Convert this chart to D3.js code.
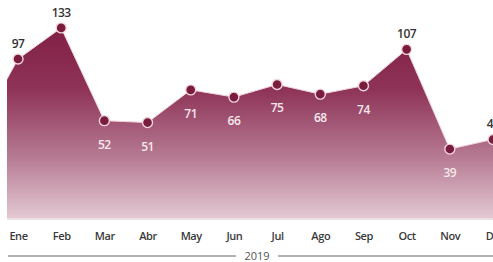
<!DOCTYPE html>
<html><head><meta charset="utf-8">
<script src="https://cdn.jsdelivr.net/npm/d3@7"></script>
<style>
html,body{margin:0;padding:0;background:#fff;}
svg{display:block;font-family:"Open Sans",sans-serif;}
</style></head>
<body><svg id="c" width="493" height="262"></svg>
<script>
const months = ["Ene","Feb","Mar","Abr","May","Jun","Jul","Ago","Sep","Oct","Nov","Dic"];
const values = [97,133,52,51,71,66,75,68,74,107,39,43];
const prevValue = 44; // Dic 2018, partly visible at left edge
const labelAbove = [true,true,false,false,false,false,false,false,false,true,false,true];
const yearLabel = "2019";

const svg = d3.select("#c");
const x = d3.scaleLinear().domain([0,11]).range([18,493]);
const y = d3.scaleLog().domain([30,150]).range([175,16]);
const bottom = 218;

const pts = [{i:-1,v:prevValue}].concat(values.map((v,i)=>({i,v})));

const defs = svg.append("defs");
const g = defs.append("linearGradient").attr("id","grad")
  .attr("gradientUnits","userSpaceOnUse").attr("x1",0).attr("y1",20).attr("x2",0).attr("y2",bottom);
g.append("stop").attr("offset","0%").attr("stop-color","#7f1d42");
g.append("stop").attr("offset","35%").attr("stop-color","#8e3357");
g.append("stop").attr("offset","70%").attr("stop-color","#b77c94");
g.append("stop").attr("offset","100%").attr("stop-color","#e4c9d3");
defs.append("clipPath").attr("id","clip").append("rect").attr("x",7).attr("y",0).attr("width",486).attr("height",bottom);

const area = d3.area().x(d=>x(d.i)).y0(bottom).y1(d=>y(d.v));
const line = d3.line().x(d=>x(d.i)).y(d=>y(d.v));
const plot = svg.append("g").attr("clip-path","url(#clip)");
plot.append("path").datum(pts).attr("d",area).attr("fill","url(#grad)");
plot.append("path").datum(pts).attr("d",line).attr("fill","none").attr("stroke","#f0d3dc").attr("stroke-width",1);

svg.append("line").attr("x1",7).attr("x2",493).attr("y1",bottom+1).attr("y2",bottom+1).attr("stroke","#cfc4c8").attr("stroke-width",1.2);

const data = values.map((v,i)=>({i,v}));
svg.selectAll("circle.pt").data(data).join("circle").attr("class","pt")
  .attr("cx",d=>x(d.i)).attr("cy",d=>y(d.v)).attr("r",5)
  .attr("fill","#7a1c3e").attr("stroke","#f2d6de").attr("stroke-width",1.4);

svg.selectAll("text.val").data(data).join("text").attr("class","val")
  .attr("x",d=>x(d.i)).attr("y",d=>labelAbove[d.i]? y(d.v)-11 : y(d.v)+28)
  .attr("text-anchor","middle").attr("font-size",12).attr("font-weight",600)
  .attr("letter-spacing","-0.5")
  .attr("fill",d=>labelAbove[d.i]?"#333":"#f6e8ec")
  .text(d=>d.v);

const xAxis = d3.axisBottom(x).tickValues(d3.range(12)).tickFormat(i=>months[i]).tickSize(0).tickPadding(0);
const ax = svg.append("g").attr("transform","translate(0,232)").call(xAxis);
ax.select(".domain").remove();
ax.selectAll("text").attr("font-size",11).attr("font-weight",600).attr("fill","#3a3a3a")
  .attr("font-family","'Open Sans',sans-serif").attr("letter-spacing","-0.4");

svg.append("line").attr("x1",8).attr("x2",236).attr("y1",256).attr("y2",256).attr("stroke","#666").attr("stroke-width",1);
svg.append("line").attr("x1",278).attr("x2",493).attr("y1",256).attr("y2",256).attr("stroke","#666").attr("stroke-width",1);
svg.append("text").attr("x",257).attr("y",260).attr("text-anchor","middle").attr("font-size",11)
  .attr("fill","#555").text(yearLabel);
</script></body></html>
